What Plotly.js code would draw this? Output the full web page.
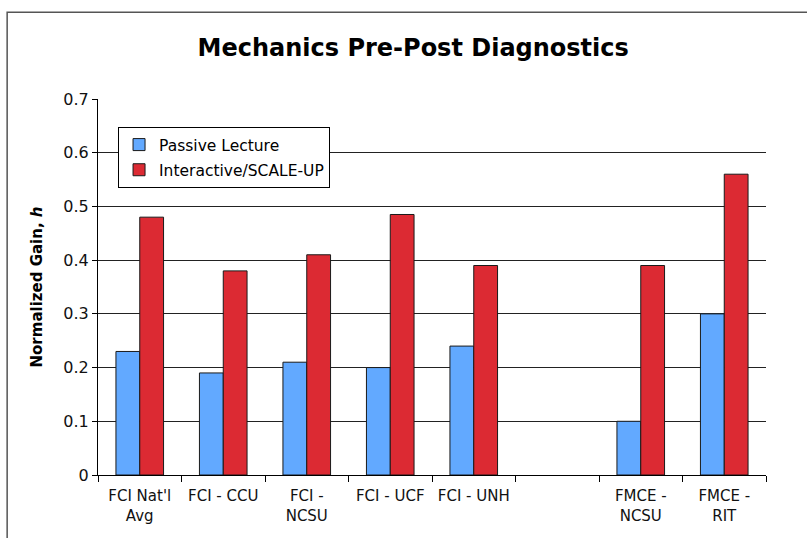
<!DOCTYPE html>
<html><head><meta charset="utf-8">
<script src="https://cdn.plot.ly/plotly-3.0.1.min.js"></script>
<style>html,body{margin:0;padding:0;background:#fff;}#chart{width:807px;height:538px;}</style>
</head><body><div id="chart"></div>
<script>
const categories = ["FCI Nat'l<br>Avg", "FCI - CCU", "FCI -<br>NCSU", "FCI - UCF", "FCI - UNH", " ", "FMCE -<br>NCSU", "FMCE -<br>RIT"];
const passiveLecture = [0.23, 0.19, 0.21, 0.20, 0.24, null, 0.10, 0.30];
const interactiveScaleUp = [0.48, 0.38, 0.41, 0.485, 0.39, null, 0.39, 0.56];
const yTickVals = [0, 0.1, 0.2, 0.3, 0.4, 0.5, 0.6, 0.7];
const yTickText = ["0", "0.1", "0.2", "0.3", "0.4", "0.5", "0.6", "0.7"];

const font = "'DejaVu Sans', Verdana, sans-serif";
const traces = [
  {type: "bar", name: "Passive Lecture", x: categories, y: passiveLecture, legendgroup: "a",
   marker: {color: "#62a9ff", line: {color: "#1a1a1a", width: 1}}},
  {type: "bar", name: "Interactive/SCALE-UP", x: categories, y: interactiveScaleUp, legendgroup: "b",
   marker: {color: "#dc2a33", line: {color: "#1a1a1a", width: 1}}}
];
const layout = {
  width: 807, height: 538,
  margin: {l: 98, r: 41, t: 99, b: 63},
  paper_bgcolor: "#fff", plot_bgcolor: "#fff",
  font: {family: font, color: "#000"},
  title: {text: "<b>Mechanics Pre-Post Diagnostics</b>", font: {family: font, size: 24, color: "#000"},
          x: 0.512, xanchor: "center", xref: "container", y: 0.912, yanchor: "middle"},
  barmode: "group", bargap: 0.43, bargroupgap: 0,
  showlegend: true,
  legend: {x: 0.030, y: 0.9255, xanchor: "left", yanchor: "top", bgcolor: "#fff",
           bordercolor: "#000", borderwidth: 1, font: {size: 15.5, family: font},
           tracegroupgap: 2, itemwidth: 30},
  xaxis: {type: "category", showgrid: false, showline: true, linecolor: "#000", linewidth: 1,
          ticks: "outside", tickson: "boundaries", ticklen: 6, tickcolor: "#000",
          ticklabelstandoff: 7,
          tickfont: {size: 15, family: font, color: "#111"}, tickangle: 0, fixedrange: true},
  yaxis: {range: [0, 0.7], tickvals: yTickVals, ticktext: yTickText, showgrid: true,
          gridcolor: "#222", gridwidth: 1, showline: true, linecolor: "#000", linewidth: 1,
          ticks: "outside", ticklen: 5, tickcolor: "#000", tickfont: {size: 16, family: font, color: "#111"},
          zeroline: false,
          title: {text: "<b>Normalized Gain, <i>h</i></b>", font: {size: 15, family: font}, standoff: 17}},
  shapes: [
    {type: "rect", xref: "paper", yref: "paper", x0: -0.136, x1: 1.2, y0: -0.3, y1: 1.231,
     line: {color: "#555", width: 1.5}, fillcolor: "rgba(0,0,0,0)", layer: "below"}
  ]
};
Plotly.newPlot("chart", traces, layout, {displayModeBar: false, staticPlot: true});
</script></body></html>
